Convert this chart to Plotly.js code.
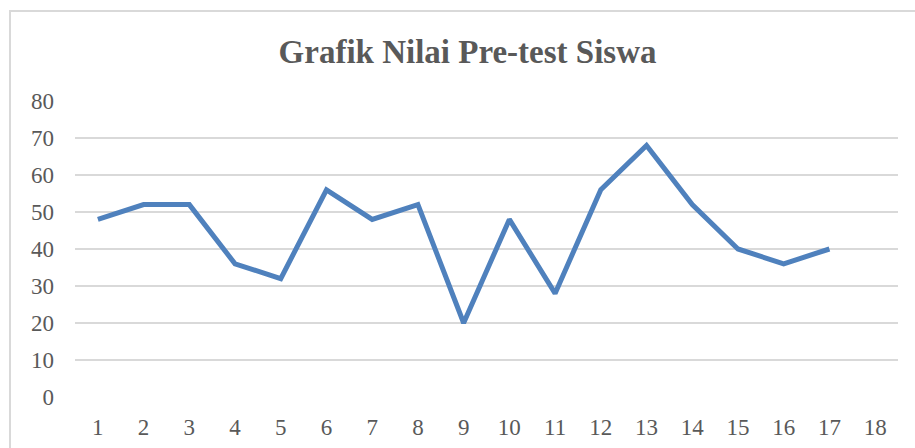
<!DOCTYPE html>
<html>
<head>
<meta charset="utf-8">
<script src="https://cdn.plot.ly/plotly-3.0.1.min.js"></script>
<style>
html,body{margin:0;padding:0;background:#fff;}
#frame{position:absolute;left:9px;top:10px;width:920px;height:450px;border-left:2px solid #d9d9d9;border-top:2px solid #d9d9d9;box-sizing:border-box;pointer-events:none;z-index:5;}
#chart{position:absolute;left:0;top:0;width:915px;height:448px;}
</style>
</head>
<body>
<div id="chart"></div>
<div id="frame"></div>
<script>
const categories = ['1','2','3','4','5','6','7','8','9','10','11','12','13','14','15','16','17','18'];
const seriesX = ['1','2','3','4','5','6','7','8','9','10','11','12','13','14','15','16','17'];
const seriesValues = [48,52,52,36,32,56,48,52,20,48,28,56,68,52,40,36,40];
const yTicks = [0,10,20,30,40,50,60,70,80];

const trace = {
  x: seriesX,
  y: seriesValues,
  type: 'scatter',
  mode: 'lines',
  line: {color:'#4f81bd', width:5},
  hoverinfo:'skip'
};

const layout = {
  width:915, height:448,
  margin:{l:75, r:17, t:101, b:51},
  paper_bgcolor:'#fff', plot_bgcolor:'#fff',
  showlegend:false,
  title:{text:'<b>Grafik Nilai Pre-test Siswa</b>', x:0.511, xanchor:'center', y:0.885, yanchor:'middle',
         font:{family:'Liberation Serif, DejaVu Serif, serif', size:33, color:'#595959'}},
  xaxis:{type:'category', categoryorder:'array', categoryarray:categories,
         tickvals:categories, ticktext:categories,
         range:[-0.5,17.5], showgrid:false, zeroline:false, showline:false, ticks:'',
         tickfont:{family:'Liberation Serif, DejaVu Serif, serif', size:23, color:'#595959'}, ticklabelstandoff:14},
  yaxis:{range:[0,80], tickvals:yTicks, showgrid:true, gridcolor:'#d9d9d9', gridwidth:1.5,
         zeroline:false, showline:false, ticks:'', ticklabelstandoff:20,
         tickfont:{family:'Liberation Serif, DejaVu Serif, serif', size:23, color:'#595959'}}
};

Plotly.newPlot('chart',[trace],layout,{staticPlot:true, displayModeBar:false});
</script>
</body>
</html>
